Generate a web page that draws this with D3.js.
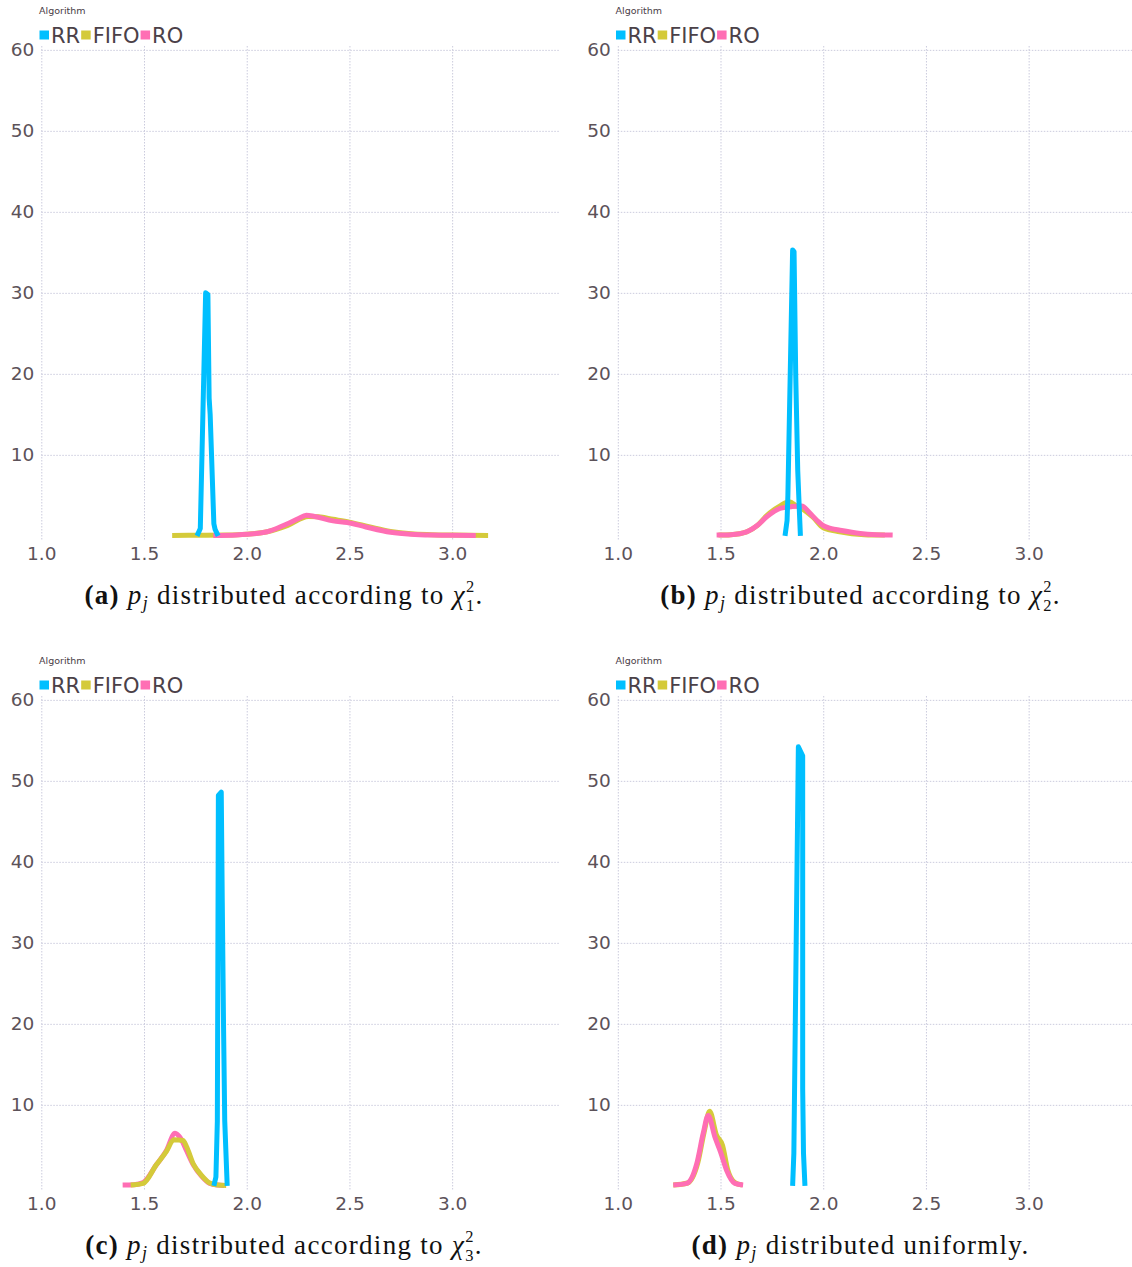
<!DOCTYPE html>
<html>
<head>
<meta charset="utf-8">
<script src="https://cdn.jsdelivr.net/npm/d3@7"></script>
<style>
  body { margin: 0; background: #fff; }
  svg { display: block; }
</style>
</head>
<body>
<svg id="chart" width="1132" height="1267"></svg>
<script>
// axis ticks and legend
const xTicks = [1.0, 1.5, 2.0, 2.5, 3.0];
const yTicks = [10, 20, 30, 40, 50, 60];
const algorithms = ["RR", "FIFO", "RO"];
const algorithmColors = ["#00bfff", "#d4ca3a", "#ff6eb4"];

// (a) chi^2 with 1 degree of freedom, [value, density]
const chi1RR = [[1.758, 0], [1.774, 0.9], [1.800, 30.0], [1.811, 29.8], [1.817, 17], [1.822, 15], [1.840, 1.5], [1.846, 0.8], [1.861, 0]];
const chi1FIFO = [[1.637, 0.05], [1.80, 0.08], [1.90, 0.1], [2.0, 0.2], [2.1, 0.5], [2.2, 1.3], [2.3, 2.4], [2.35, 2.35], [2.42, 2.05], [2.5, 1.7], [2.6, 1.1], [2.7, 0.55], [2.8, 0.25], [2.9, 0.15], [3.0, 0.1], [3.175, 0.05]];
const chi1RO = [[1.837, 0.05], [1.95, 0.12], [2.0, 0.2], [2.1, 0.5], [2.19, 1.4], [2.25, 2.1], [2.29, 2.55], [2.33, 2.4], [2.42, 1.85], [2.49, 1.65], [2.58, 1.1], [2.7, 0.45], [2.8, 0.2], [2.9, 0.1], [3.0, 0.07], [3.115, 0.05]];

// (b) chi^2 with 2 degrees of freedom
const chi2RR = [[1.814, 0], [1.824, 1.9], [1.828, 5], [1.851, 35.3], [1.858, 35.1], [1.866, 20], [1.876, 8], [1.884, 3], [1.889, 0]];
const chi2FIFO = [[1.49, 0.1], [1.55, 0.15], [1.627, 0.5], [1.68, 1.3], [1.725, 2.5], [1.79, 3.7], [1.835, 4.2], [1.87, 3.7], [1.9, 3.3], [1.95, 2.3], [2.0, 1.0], [2.08, 0.5], [2.2, 0.15], [2.30, 0.1]];
const chi2RO = [[1.481, 0.1], [1.55, 0.15], [1.627, 0.5], [1.68, 1.3], [1.725, 2.35], [1.79, 3.4], [1.844, 3.6], [1.895, 3.7], [1.935, 2.8], [1.97, 1.9], [2.0, 1.25], [2.04, 0.9], [2.081, 0.7], [2.18, 0.3], [2.26, 0.15], [2.338, 0.1]];

// (c) chi^2 with 3 degrees of freedom
const chi3RR = [[1.840, 0], [1.850, 1.1], [1.857, 8], [1.862, 48.2], [1.876, 48.6], [1.881, 35], [1.887, 20], [1.893, 8], [1.905, 0]];
const chi3FIFO = [[1.435, 0.1], [1.496, 0.3], [1.56, 2.6], [1.61, 4.3], [1.645, 5.7], [1.69, 5.6], [1.708, 4.8], [1.74, 2.7], [1.78, 1.3], [1.82, 0.35], [1.86, 0.1], [1.90, 0.05]];
const chi3RO = [[1.396, 0.1], [1.45, 0.15], [1.496, 0.4], [1.56, 2.6], [1.61, 4.4], [1.651, 6.5], [1.68, 5.8], [1.708, 4.3], [1.74, 2.6], [1.78, 1.2], [1.82, 0.3], [1.86, 0.1], [1.89, 0.05]];

// (d) uniform
const uniRR = [[1.851, 0], [1.857, 4], [1.879, 54.2], [1.900, 53.1], [1.900, 12], [1.904, 4], [1.911, 0]];
const uniFIFO = [[1.27, 0.1], [1.34, 0.35], [1.39, 2.9], [1.42, 6.6], [1.447, 9.2], [1.48, 6.3], [1.51, 5.0], [1.535, 2.0], [1.57, 0.4], [1.605, 0.1]];
const uniRO = [[1.27, 0.1], [1.335, 0.3], [1.384, 2.7], [1.416, 6.5], [1.44, 8.7], [1.473, 6.0], [1.50, 4.2], [1.53, 1.9], [1.57, 0.3], [1.61, 0.1]];

const panels = [
  { tag: "(a)", sub: "1", series: { RR: chi1RR, FIFO: chi1FIFO, RO: chi1RO }, order: ["FIFO", "RO", "RR"] },
  { tag: "(b)", sub: "2", series: { RR: chi2RR, FIFO: chi2FIFO, RO: chi2RO }, order: ["FIFO", "RO", "RR"] },
  { tag: "(c)", sub: "3", series: { RR: chi3RR, FIFO: chi3FIFO, RO: chi3RO }, order: ["RO", "FIFO", "RR"] },
  { tag: "(d)", sub: null, series: { RR: uniRR, FIFO: uniFIFO, RO: uniRO }, order: ["FIFO", "RO", "RR"] }
];

const gridColor = "#cbcbdd";
const tickColor = "#5c5259";
const panelDx = 576.5;
const panelDy = 650;

let svg = d3.select("#chart");

panels.forEach((p, i) => {
  drawPanel(svg, p, (i % 2) * panelDx, Math.floor(i / 2) * panelDy);
});

function drawPanel(svg, panel, ox, oy) {
  let g = svg.append("g").attr("transform", `translate(${ox},${oy})`);

  let x = d3.scaleLinear().domain([1.0, 3.525]).range([41.3, 560]);
  let y = d3.scaleLinear().domain([-0.45, 60.6]).range([539.5, 45]);

  // y grid + labels
  let yAxis = d3.axisLeft(y)
    .tickValues(yTicks)
    .tickFormat(d3.format("d"))
    .tickSize(-(x.range()[1] - x.range()[0]))
    .tickPadding(7);
  let gy = g.append("g").attr("transform", `translate(${x.range()[0]},0)`).call(yAxis);
  styleAxis(gy);

  // x grid + labels
  let xAxis = d3.axisBottom(x)
    .tickValues(xTicks)
    .tickFormat(d3.format(".1f"))
    .tickSize(-(y.range()[0] - y.range()[1]))
    .tickPadding(7);
  let gx = g.append("g").attr("transform", `translate(0,${y.range()[0]})`).call(xAxis);
  styleAxis(gx);

  // density lines
  panel.order.forEach(name => {
    let k = algorithms.indexOf(name);
    let line = d3.line()
      .x(d => x(d[0]))
      .y(d => y(d[1]))
      .curve(name === "RR" ? d3.curveLinear : d3.curveMonotoneX);
    g.append("path")
      .datum(panel.series[name])
      .attr("d", line)
      .attr("fill", "none")
      .attr("stroke", algorithmColors[k])
      .attr("stroke-width", 5)
      .attr("stroke-linejoin", "round")
      .attr("stroke-linecap", "butt");
  });

  drawLegend(g);
  drawCaption(g, panel);
}

function styleAxis(ax) {
  ax.select(".domain").remove();
  ax.attr("font-family", "'DejaVu Sans', sans-serif").attr("font-size", 18.5);
  ax.selectAll(".tick line")
    .attr("stroke", gridColor)
    .attr("stroke-width", 1)
    .attr("stroke-dasharray", "1.5,1.5");
  ax.selectAll(".tick text").attr("fill", tickColor);
}

function drawLegend(g) {
  g.append("text")
    .attr("x", 39)
    .attr("y", 14)
    .attr("font-family", "'DejaVu Sans', sans-serif")
    .attr("font-size", 9.5)
    .attr("fill", "#4a4047")
    .text("Algorithm");

  let cx = 39.5;
  algorithms.forEach((name, k) => {
    g.append("rect")
      .attr("x", cx)
      .attr("y", 30.5)
      .attr("width", 9.5)
      .attr("height", 9)
      .attr("fill", algorithmColors[k]);
    let t = g.append("text")
      .attr("x", cx + 11.5)
      .attr("y", 43)
      .attr("font-family", "'DejaVu Sans', sans-serif")
      .attr("font-size", 21)
      .attr("fill", "#4b4148")
      .text(name);
    cx += 11.5 + t.node().getComputedTextLength() + 1;
  });
}

function drawCaption(g, panel) {
  let t = g.append("text")
    .attr("x", 284)
    .attr("y", 604)
    .attr("text-anchor", "middle")
    .attr("font-family", "'Liberation Serif', serif")
    .attr("font-size", 27)
    .attr("letter-spacing", 1.3)
    .attr("fill", "#111");
  t.append("tspan").attr("font-weight", "bold").text(panel.tag + " ");
  t.append("tspan").attr("font-style", "italic").text("p");
  t.append("tspan").attr("font-style", "italic").attr("font-size", 18).attr("dy", 5).text("j");
  if (panel.sub) {
    t.append("tspan").attr("dy", -5).text(" distributed according to ");
    t.append("tspan").attr("font-style", "italic").text("χ");
    t.append("tspan").attr("font-size", 16.5).attr("dy", -12).text("2");
    t.append("tspan").attr("font-size", 16.5).attr("dx", -9.5).attr("dy", 19).text(panel.sub);
    t.append("tspan").attr("dy", -7).text(".");
  } else {
    t.append("tspan").attr("dy", -5).text(" distributed uniformly.");
  }
}
</script>
</body>
</html>
